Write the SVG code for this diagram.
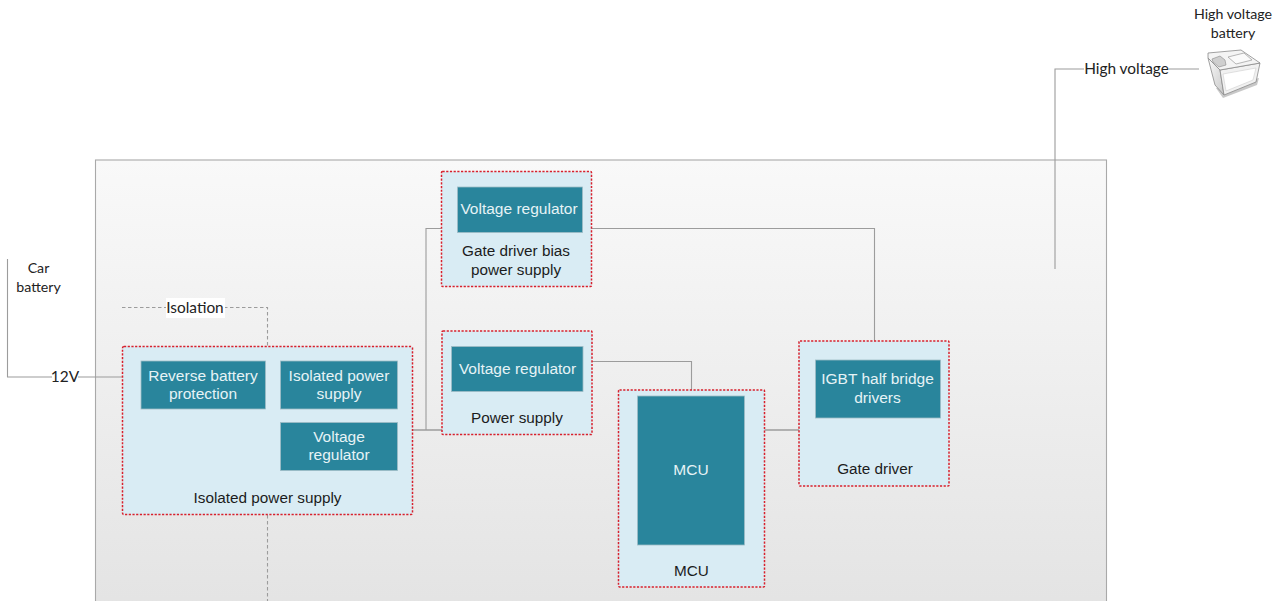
<svg xmlns="http://www.w3.org/2000/svg" width="1278" height="601" viewBox="0 0 1278 601">
<style>
.panel{fill:#d9ecf4;stroke:#d8202c;stroke-width:1.5;stroke-dasharray:2.2 1.5}
.block{fill:#29859c;stroke:#9fbcc6;stroke-width:.8}
.conn{fill:none;stroke:#9c9c9c;stroke-width:1.1}
.dash{stroke-dasharray:3.5 2.5}
text{font-family:"Liberation Sans",Arial,sans-serif;text-anchor:middle}
.w{fill:#e6f3f6;font-size:15.5px}
.k{fill:#1c1c1c;font-size:15.3px}
.o{font-family:Lato,"Open Sans",sans-serif;fill:#222}
.s{font-size:14.2px}
.m{font-size:15.4px}
.bl{stroke:#8a8a8a;stroke-width:.8;stroke-linejoin:round}
</style>
<defs>
<linearGradient id="bg" x1="0" y1="0" x2="0" y2="1"><stop offset="0" stop-color="#f9f9f9"/><stop offset="1" stop-color="#e3e3e3"/></linearGradient>
<linearGradient id="bat" x1="0" y1="0" x2="1" y2="1"><stop offset="0" stop-color="#fafafa"/><stop offset="1" stop-color="#c9c9c9"/></linearGradient>
</defs>
<rect x="0" y="0" width="1278" height="601" fill="#fff"/>
<rect id="enclosure" x="95.5" y="160" width="1011" height="460" fill="url(#bg)" stroke="#a9a9a9" stroke-width="1.1"/>
<g id="connectors">
<path class="conn" d="M7.5 259V377H122"/>
<path class="conn dash" d="M122 307.500H267.500V346"/>
<path class="conn dash" d="M267.500 515V601"/>
<path class="conn" d="M412 430H442" style="stroke-width:1.5"/>
<path class="conn" d="M426 430V228.500H441"/>
<path class="conn" d="M591 228.500H874.500V360"/>
<path class="conn" d="M592 361.500H691.500V390"/>
<path class="conn" d="M764 430H799" style="stroke-width:1.5"/>
<path class="conn" d="M1199 69H1055V269"/>
</g>
<g id="isolated-power-supply">
<rect class="panel" x="122.500" y="346.500" width="290" height="168" rx="1.500"/>
<text class="k" x="267.500" y="503">Isolated power supply</text>
</g>
<g id="reverse-battery-protection">
<rect class="block" x="141" y="361" width="124.500" height="48"/>
<text class="w" x="203" y="381">Reverse battery</text><text class="w" x="203" y="399">protection</text>
</g>
<g id="isolated-power-block">
<rect class="block" x="280.500" y="361" width="117" height="48"/>
<text class="w" x="339" y="381">Isolated power</text><text class="w" x="339" y="399">supply</text>
</g>
<g id="voltage-regulator-isolated">
<rect class="block" x="280.500" y="422.500" width="117" height="48"/>
<text class="w" x="339" y="442">Voltage</text><text class="w" x="339" y="460">regulator</text>
</g>
<g id="gate-driver-bias">
<rect class="panel" x="441.500" y="171.500" width="150" height="115" rx="1"/>
<rect class="block" x="457.500" y="187" width="125" height="45.500"/>
<text class="w" x="519" y="214">Voltage regulator</text>
<text class="k" x="516" y="256">Gate driver bias</text><text class="k" x="516" y="275">power supply</text>
</g>
<g id="power-supply">
<rect class="panel" x="442" y="331" width="150" height="103.500" rx="1"/>
<rect class="block" x="451.500" y="346.500" width="131.500" height="45"/>
<text class="w" x="517.500" y="373.500">Voltage regulator</text>
<text class="k" x="517" y="423">Power supply</text>
</g>
<g id="mcu">
<rect class="panel" x="618.500" y="390" width="146" height="197" rx="1"/>
<rect class="block" x="637.500" y="396" width="107" height="149"/>
<text class="w" x="691" y="475">MCU</text>
<text class="k" x="691.500" y="576">MCU</text>
</g>
<g id="gate-driver">
<rect class="panel" x="799" y="341" width="150" height="145" rx="1"/>
<rect class="block" x="815.500" y="360" width="125" height="58"/>
<text class="w" x="877.500" y="384">IGBT half bridge</text><text class="w" x="877.500" y="403">drivers</text>
<text class="k" x="875" y="474">Gate driver</text>
</g>
<g id="car-battery"><text class="o s" x="38.500" y="273">Car</text><text class="o s" x="38.500" y="292">battery</text></g>
<g id="label-12v"><rect x="52" y="368" width="26" height="18" fill="#fff"/><text class="o m" x="65" y="382">12V</text></g>
<g id="label-isolation"><rect x="166" y="298" width="59" height="20" fill="#fff"/><text class="o m" x="195" y="313">Isolation</text></g>
<g id="label-high-voltage"><rect x="1084" y="60" width="85" height="18" fill="#fff"/><text class="o m" x="1126.500" y="74">High voltage</text></g>
<g id="high-voltage-battery">
<text class="o s" x="1233" y="19">High voltage</text><text class="o s" x="1233" y="38">battery</text>
<path d="M1216 88L1223 98L1257 85L1259 78Z" fill="#9a9a9a" opacity=".55"/>
<path class="bl" d="M1208 58L1220 70L1224 95L1215 85Z" fill="url(#bat)"/>
<path class="bl" d="M1220 70L1260 63L1256 82L1224 95Z" fill="#f1f1f1"/>
<path d="M1223 74L1256 68L1253 80L1226 91Z" fill="#fff" stroke="#cfcfcf" stroke-width=".6"/>
<path class="bl" d="M1208 53L1241 50L1260 63L1220 70L1208 58Z" fill="#f4f4f4"/>
<path d="M1212 59L1220 56L1225 60L1226 65L1219 67L1213 62Z" fill="#cfcfcf" stroke="#8a8a8a" stroke-width=".6"/>
<path d="M1228 57L1244 53L1252 60L1236 64Z" fill="#fafafa" stroke="#9a9a9a" stroke-width=".7"/>
</g>
</svg>
